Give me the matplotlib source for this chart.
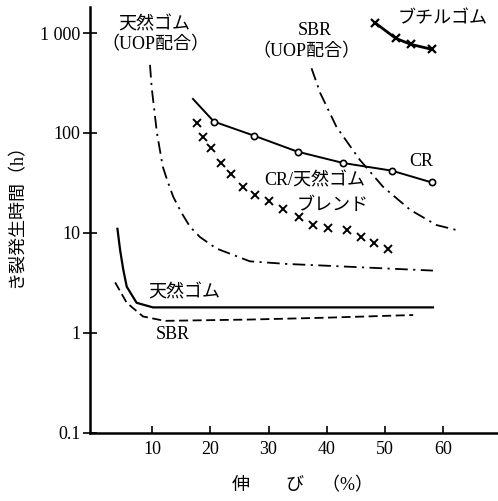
import numpy as np
import matplotlib.pyplot as plt

plt.rcParams['font.family'] = ['Liberation Serif', 'Noto Sans CJK JP']

# 天然ゴム (UOP配合)
nr_uop_x = [9.6, 9.9, 10.8, 11.8, 12.7, 13.6, 15.0, 16.5, 18.2, 21.0, 26.8, 33.0, 40.0, 58.3]
nr_uop_y = [480, 282, 100, 46, 32, 23, 16, 11.5, 9.1, 7.0, 5.2, 4.9, 4.7, 4.2]

# SBR (UOP配合)
sbr_uop_x = [37.4, 38.9, 41.7, 45.7, 49.7, 54.4, 58.9, 62.9]
sbr_uop_y = [444, 251, 115, 54, 29, 17, 12, 10.5]

# 天然ゴム
nr_x = [4.0, 4.45, 5.0, 5.6, 7.3, 10.1, 20.0, 40.0, 58.3]
nr_y = [11, 6.8, 4.3, 2.9, 2.0, 1.8, 1.8, 1.8, 1.8]

# SBR
sbr_x = [3.6, 5.6, 8.4, 12.1, 26.8, 40.0, 54.9]
sbr_y = [3.2, 2.0, 1.46, 1.32, 1.36, 1.42, 1.51]

# CR
cr_x = [17.0, 20.6, 27.5, 35.0, 42.9, 51.2, 58.1]
cr_y = [219, 130, 94, 65, 50, 42, 32]

# CR/天然ゴム ブレンド
blend_x = [17.7, 18.7, 20.1, 21.8, 23.6, 25.6, 27.7, 30.1, 32.5, 35.2, 37.7, 40.2, 43.5, 45.9, 48.2, 50.6]
blend_y = [126, 91, 71, 50, 39, 29, 24, 21, 17.4, 14.5, 12, 11.2, 10.7, 9.1, 7.9, 6.9]

# ブチルゴム
butyl_x = [48.3, 51.9, 54.5, 58.1]
butyl_y = [1270, 885, 770, 687]

yticks = [0.1, 1, 10, 100, 1000]
ytick_labels = ['0.1', '1', '10', '100', '1 000']
xticks = [10, 20, 30, 40, 50, 60]

fig = plt.figure(figsize=(4.98, 5.01), dpi=100)
ax = fig.add_axes([0.181, 0.136, 0.819, 0.850])

dashdot = (0, (7, 3, 1.2, 3))
ax.plot(nr_uop_x, nr_uop_y, color='black', lw=1.3, linestyle=dashdot)
ax.plot(sbr_uop_x, sbr_uop_y, color='black', lw=1.3, linestyle=dashdot)
ax.plot(nr_x, nr_y, color='black', lw=1.6)
ax.plot(sbr_x, sbr_y, color='black', lw=1.3, linestyle=(0, (5, 2.5)))
ax.plot(cr_x, cr_y, color='black', lw=1.4, marker='o', markersize=4.5,
        markerfacecolor='white', markeredgewidth=1.2, markevery=list(range(1, len(cr_x))))
ax.plot(blend_x, blend_y, color='black', lw=0, marker='x', markersize=5.5, markeredgewidth=1.4)
ax.plot(butyl_x, butyl_y, color='black', lw=2.0, marker='x', markersize=6, markeredgewidth=1.6)

ax.set_yscale('log')
ax.set_xlim(-0.7, 69.5)
ax.set_ylim(0.1, 1820)
ax.set_yticks(yticks)
ax.set_yticklabels(ytick_labels)
ax.set_xticks(xticks)
ax.minorticks_off()
ax.tick_params(axis='x', direction='in', length=5, width=1.2, labelsize=13, pad=6)
ax.tick_params(axis='y', direction='inout', length=10, width=1.2, labelsize=13, pad=2)
for s in ['top', 'right']:
    ax.spines[s].set_visible(False)
for s in ['left', 'bottom']:
    ax.spines[s].set_linewidth(1.8)

ax.set_ylabel('き裂発生時間（h）', fontsize=13)
ax.yaxis.set_label_coords(-0.16, 0.52)
ax.set_xlabel('伸　　び　（%）', fontsize=13)
ax.xaxis.set_label_coords(0.52, -0.103)

fs = 13
ax.text(10.3, 1200, '天然ゴム', fontsize=fs, ha='center', va='center')
ax.text(10.6, 770, '（UOP配合）', fontsize=fs, ha='center', va='center')
ax.text(38.0, 1050, 'SBR', fontsize=fs, ha='center', va='center')
ax.text(36.5, 650, '（UOP配合）', fontsize=fs, ha='center', va='center')
ax.text(59.9, 1400, 'ブチルゴム', fontsize=fs, ha='center', va='center')
ax.text(56.3, 52, 'CR', fontsize=fs, ha='center', va='center')
ax.text(38.0, 33, 'CR/天然ゴム', fontsize=fs, ha='center', va='center')
ax.text(41.1, 19, 'ブレンド', fontsize=fs, ha='center', va='center')
ax.text(15.5, 2.5, '天然ゴム', fontsize=fs, ha='center', va='center')
ax.text(13.5, 0.97, 'SBR', fontsize=fs, ha='center', va='center')

fig.savefig('out.png', dpi=100)
